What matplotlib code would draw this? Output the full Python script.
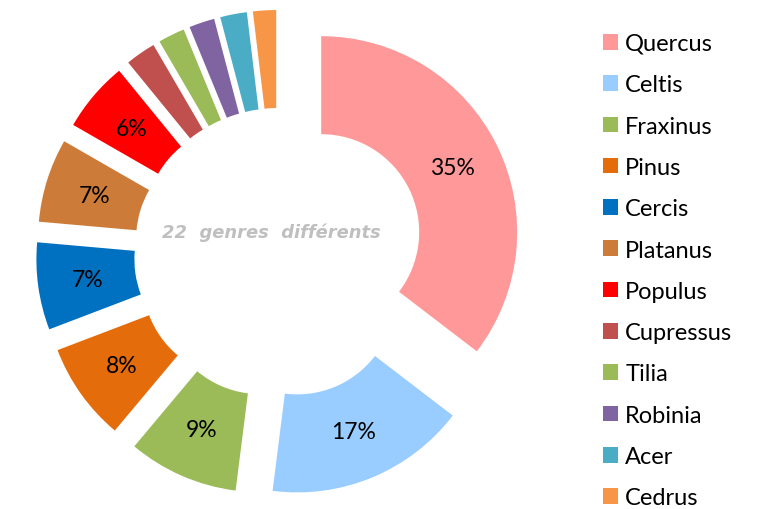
import matplotlib
matplotlib.use("Agg")
import matplotlib.pyplot as plt

genres = ["Quercus", "Celtis", "Fraxinus", "Pinus", "Cercis", "Platanus",
          "Populus", "Cupressus", "Tilia", "Robinia", "Acer", "Cedrus"]
shares = [35.4, 16.6, 9.1, 8.1, 7.2, 6.9, 5.8, 2.5, 2.2, 2.1, 2.2, 1.9]
colors = ["#FF9999", "#99CCFF", "#9BBB59", "#E46C0A", "#0070C0", "#CC7B38",
          "#FF0000", "#C0504D", "#9BBB59", "#8064A2", "#4BACC6", "#F79646"]
center_text = "22  genres  différents"

W, H = 776, 510
fig = plt.figure(figsize=(W / 100, H / 100), dpi=100)

R = 196.0           # outer radius in px
cx, cy = 279.0, 254.0  # centre in px from top-left
half = 1.35
size = 2 * half * R
ax = fig.add_axes([(cx - size / 2) / W, (H - cy - size / 2) / H, size / W, size / H])

def fmt(p):
    return f"{p:.0f}%" if p >= 3 else ""

wedges, texts, autotexts = ax.pie(
    shares, colors=colors, startangle=90, counterclock=False,
    explode=[0.24] * len(shares), radius=1.0,
    wedgeprops=dict(width=0.50, linewidth=0),
    autopct=fmt, pctdistance=0.745,
    textprops=dict(fontsize=16.5, family="Lato", color="black"))

ax.set_xlim(-half, half)
ax.set_ylim(-half, half)
ax.set_aspect("equal")
ax.axis("off")

ax.text(-0.04, 0.11, center_text, ha="center", va="center",
        fontsize=12.9, fontweight="bold", fontstyle="italic",
        color="#BFBFBF", family="DejaVu Sans")

leg = fig.legend(wedges, genres, loc="upper left",
                 bbox_to_anchor=(603 / W, (H - 34) / H),
                 frameon=False, prop=dict(family="Lato", size=17),
                 handlelength=0.64, handleheight=0.64, handletextpad=0.3,
                 labelspacing=0.86, borderpad=0, borderaxespad=0)

fig.savefig("out.png", dpi=100)
